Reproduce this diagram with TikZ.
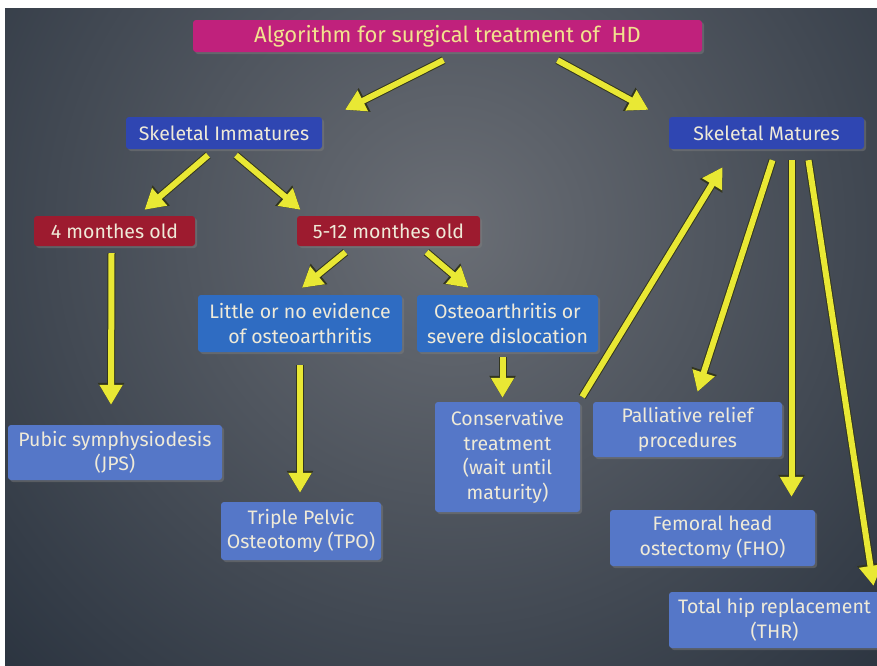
\documentclass[tikz,border=0pt]{standalone}
\usepackage{fontspec}
\setmainfont{Fira Sans}
\usetikzlibrary{arrows.meta, calc, shadows}

\definecolor{bgdark}{HTML}{28313D}
\definecolor{bglight}{HTML}{6A6E75}
\definecolor{titlemag}{HTML}{C0217C}
\definecolor{darkblue}{HTML}{2F46B2}
\definecolor{darkred}{HTML}{9D1B2F}
\definecolor{midblue}{HTML}{2F6CC2}
\definecolor{leafblue}{HTML}{5577C8}
\definecolor{arrowyellow}{HTML}{E9E834}
\definecolor{arrowedge}{HTML}{33361F}
\definecolor{cream}{HTML}{EFEAD8}
\definecolor{titletext}{HTML}{F2E28E}

\tikzset{
  box/.style={rounded corners=3pt, text=cream, align=center, inner sep=2pt,
    font=\fontsize{19.5}{24.5}\selectfont,
    drop shadow={opacity=0.45, shadow xshift=2pt, shadow yshift=-2pt}},
  yarrow/.style={draw=arrowyellow, line width=6pt,
    -{Triangle[length=20pt, width=22pt]},
    preaction={draw=arrowedge, line width=8pt, -{Triangle[length=22pt, width=25pt]}}}
}

\begin{document}
\begin{tikzpicture}[x=1pt, y=-1pt]
    % Background
    \useasboundingbox (0,0) rectangle (877,665);
    \fill[white] (0,0) rectangle (877,665);
    \begin{scope}
        \clip (5,8) rectangle (877,665);
        \fill[bgdark] (5,8) rectangle (877,665);
        \shade[inner color=bglight, outer color=bgdark] (450,230) circle (660);
    \end{scope}
    \clip (0,0) rectangle (877,665);

    % Top of the tree
    \node[box, fill=titlemag, text=titletext, font=\fontsize{22}{26}\selectfont, minimum width=509pt, minimum height=32pt] (title) at (447.5,36) {Algorithm for surgical treatment of \ HD};
    \node[box, fill=darkblue, minimum width=196pt, minimum height=32pt] (immat) at (224,133) {Skeletal Immatures};
    \node[box, fill=darkblue, minimum width=195pt, minimum height=32pt] (mat) at (766.5,133) {Skeletal Matures};

    % Age groups
    \node[box, fill=darkred, minimum width=161pt, minimum height=30pt] (four) at (114.5,231) {4 monthes old};
    \node[box, fill=darkred, minimum width=183pt, minimum height=30pt] (five) at (388.5,231) {5-12 monthes old};

    % Findings
    \node[box, fill=midblue, minimum width=204pt, minimum height=57pt] (little) at (300,323.5) {Little or no evidence\\of osteoarthritis};
    \node[box, fill=midblue, minimum width=181pt, minimum height=57pt] (osteo) at (507.5,323.5) {Osteoarthritis or\\severe dislocation};

    % Treatments
    \node[box, fill=leafblue, minimum width=214pt, minimum height=55pt] (jps) at (115,452.5) {Pubic symphysiodesis\\(JPS)};
    \node[box, fill=leafblue, minimum width=160pt, minimum height=58pt] (tpo) at (301,531) {Triple Pelvic\\Osteotomy (TPO)};
    \node[box, fill=leafblue, minimum width=145pt, minimum height=110pt] (cons) at (507.5,457) {Conservative\\treatment\\(wait until\\maturity)};
    \node[box, fill=leafblue, minimum width=189pt, minimum height=55pt] (pall) at (687.5,429.5) {Palliative relief\\procedures};
    \node[box, fill=leafblue, minimum width=205pt, minimum height=56pt] (fho) at (712.5,538) {Femoral head\\ostectomy (FHO)};
    \node[box, fill=leafblue, minimum width=211pt, minimum height=56pt] (thr) at (774.5,620) {Total hip replacement\\(THR)};

    % Arrows
    \draw[yarrow] ($(title.south)+(-4,8)$) -- ($(immat.north)+(121,-7)$);
    \draw[yarrow] ($(title.south)+(110,8)$) -- ($(mat.north)+(-118,-7)$);
    \draw[yarrow] ($(immat.south)+(-16,6)$) -- ($(four.north)+(30,-6)$);
    \draw[yarrow] ($(immat.south)+(12,6)$) -- ($(five.north)+(-88,-6)$);
    \draw[yarrow] ($(five.south)+(-43,6)$) -- ($(little.north)+(2,-7)$);
    \draw[yarrow] ($(five.south)+(38,6)$) -- ($(osteo.north)+(-39,-7)$);
    \draw[yarrow] ($(four.south)+(-3,7)$) -- ($(jps.north)+(-4,-20)$);
    \draw[yarrow] ($(little.south)+(0,13)$) -- ($(tpo.north)+(-1,-9)$);
    \draw[yarrow] ($(osteo.south)+(-5,5)$) -- ($(cons.north)+(-5,-4)$);
    \draw[yarrow] ($(cons.north east)+(2,-5)$) -- ($(mat.south)+(-44,18)$);
    \draw[yarrow] ($(mat.south)+(6,11)$) -- ($(pall.north)+(10,-10)$);
    \draw[yarrow] ($(mat.south)+(25,11)$) -- ($(fho.north)+(79,-13)$);
    \draw[yarrow] ($(mat.south)+(42,11)$) -- ($(thr.north)+(99,-6)$);
\end{tikzpicture}
\end{document}
